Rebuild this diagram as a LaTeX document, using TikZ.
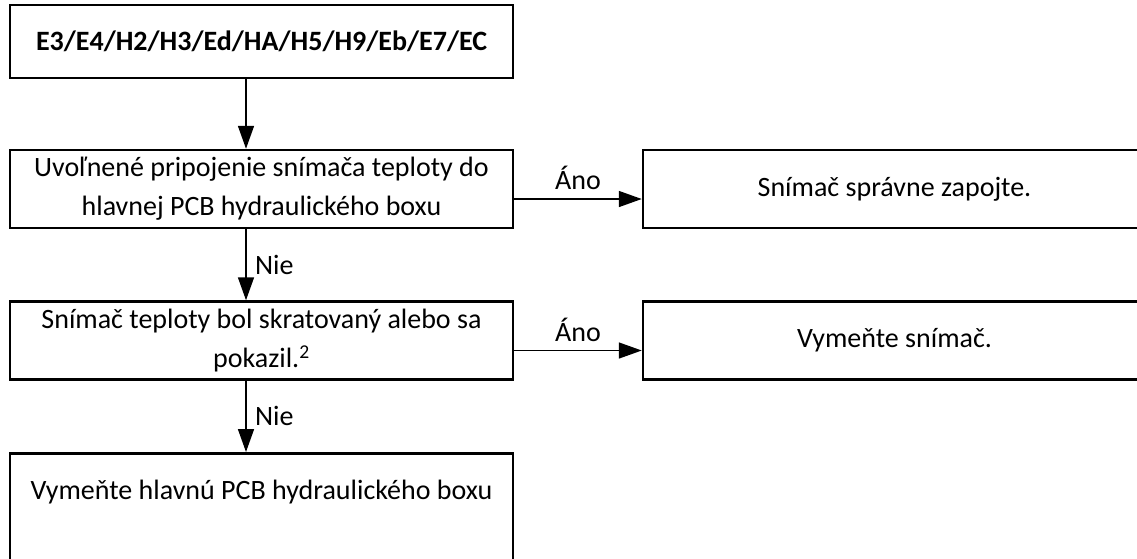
\documentclass[tikz,border=0pt]{standalone}
\usepackage{fontspec}
\setmainfont{Carlito}
\usetikzlibrary{arrows.meta}

\begin{document}
\begin{tikzpicture}[
    x=1pt, y=-1pt,
    font=\fontsize{28}{39}\selectfont,
    check/.style={draw, line width=2.5pt, minimum width=503pt, minimum height=78pt, align=center, inner sep=0pt},
    fix/.style={draw, line width=2.5pt, minimum width=503pt, minimum height=78pt, align=center, inner sep=0pt},
    arrow/.style={-{Triangle[length=23pt, width=16pt]}, line width=1.6pt}
]
\useasboundingbox (0,0) rectangle (1137,558);
\clip (0,0) rectangle (1137,558);

\node[check, minimum height=73pt, font=\fontsize{28}{39}\selectfont\bfseries] (start) at (261.5, 41.5) {E3/E4/H2/H3/Ed/HA/H5/H9/Eb/E7/EC};

\node[check] (q1) at (261.5, 189) {Uvoľnené pripojenie snímača teploty do\\hlavnej PCB hydraulického boxu};
\node[fix] (a1) at (894.5, 189) {Snímač správne zapojte.};

\node[check] (q2) at (261.5, 340.5) {Snímač teploty bol skratovaný alebo sa\\pokazil.\textsuperscript{2}};
\node[fix] (a2) at (894.5, 340.5) {Vymeňte snímač.};

\node[check, anchor=north, minimum height=0pt, text height=46pt, text depth=104pt] (a3) at (261.5, 452) {Vymeňte hlavnú PCB hydraulického boxu};

\draw[arrow] ([xshift=-15.5pt]start.south) -- ([xshift=-15.5pt]q1.north);
\draw[arrow] ([yshift=-10pt]q1.east) -- node[above=5pt] {Áno} ([yshift=-10pt]a1.west);
\draw[arrow] ([xshift=-15.5pt]q1.south) -- node[right=5pt] {Nie} ([xshift=-15.5pt]q2.north);

\draw[arrow] ([yshift=-10pt]q2.east) -- node[above=5pt] {Áno} ([yshift=-10pt]a2.west);
\draw[arrow] ([xshift=-15.5pt]q2.south) -- node[right=5pt] {Nie} ([xshift=-15.5pt]a3.north);

\end{tikzpicture}
\end{document}
